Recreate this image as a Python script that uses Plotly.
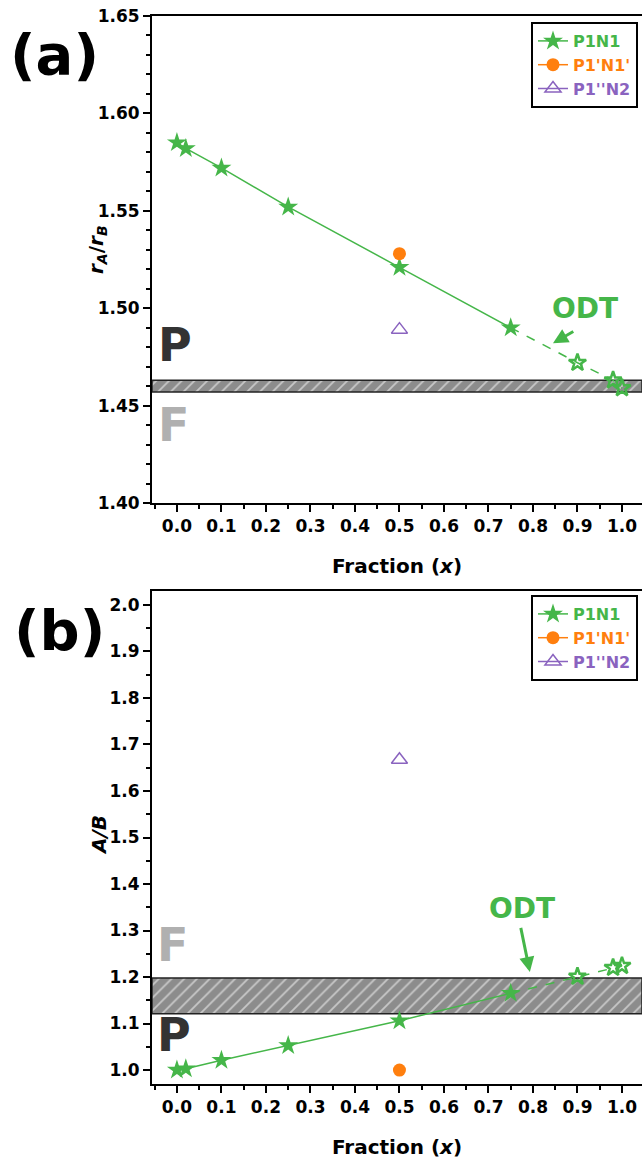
import plotly.graph_objects as go

# ---------------- data ----------------
x_frac = [0.0, 0.02, 0.1, 0.25, 0.5, 0.75, 0.9, 0.98, 1.0]
ratio_p1n1 = [1.585, 1.582, 1.572, 1.552, 1.521, 1.490, 1.472, 1.463, 1.459]
ab_p1n1 = [1.000, 1.003, 1.021, 1.053, 1.106, 1.165, 1.201, 1.220, 1.224]
x_single = [0.5]
ratio_p1pn1p = [1.528]
ratio_p1ppn2 = [1.489]
ab_p1pn1p = [1.000]
ab_p1ppn2 = [1.667]
band_a = [1.457, 1.463]
band_b = [1.121, 1.198]
x_ticks = [0.0, 0.1, 0.2, 0.3, 0.4, 0.5, 0.6, 0.7, 0.8, 0.9, 1.0]
x_range = [-0.056, 1.045]
ya_range = [1.40, 1.65]
yb_range = [0.97, 2.03]
odt_a = dict(text_x=0.917, text_y=1.5, head_x=0.845, head_y=1.482, tail_x=0.894, tail_y=1.4885)
odt_b = dict(text_x=0.775, text_y=1.347, head_x=0.793, head_y=1.211, tail_x=0.772, tail_y=1.309)

GREEN = "#45b649"
ORANGE = "#ff7f0e"
PURPLE = "#8a63bf"
FONT = "DejaVu Sans"

n_solid = 6  # first 6 points solid filled stars

fig = go.Figure()


def add_panel(xa, ya, yvals, orange_vals, purple_vals, band, legend):
    # hatched band
    fig.add_trace(go.Scatter(
        x=[x_range[0], x_range[1], x_range[1], x_range[0], x_range[0]],
        y=[band[0], band[0], band[1], band[1], band[0]],
        mode="lines", fill="toself",
        fillpattern=dict(shape="/", bgcolor="#8c8c8c", fgcolor="#c8c8c8",
                         size=9, solidity=0.2, fillmode="replace"),
        line=dict(color="#222222", width=1.5),
        xaxis=xa, yaxis=ya, showlegend=False, hoverinfo="skip"))
    # dashed extension
    fig.add_trace(go.Scatter(
        x=x_frac[n_solid - 1:], y=yvals[n_solid - 1:], mode="lines",
        line=dict(color=GREEN, width=1.5, dash="dash"),
        xaxis=xa, yaxis=ya, showlegend=False))
    # solid with filled stars
    fig.add_trace(go.Scatter(
        x=x_frac[:n_solid], y=yvals[:n_solid], mode="lines+markers",
        line=dict(color=GREEN, width=1.5),
        marker=dict(symbol="star", size=15, color=GREEN),
        name='<span style="color:%s">P1N1</span>' % GREEN,
        xaxis=xa, yaxis=ya, legend=legend))
    # hollow stars
    fig.add_trace(go.Scatter(
        x=x_frac[n_solid:], y=yvals[n_solid:], mode="markers",
        marker=dict(symbol="star-open", size=13, color=GREEN,
                    line=dict(width=2.5, color=GREEN)),
        xaxis=xa, yaxis=ya, showlegend=False))
    fig.add_trace(go.Scatter(
        x=x_single, y=orange_vals, mode="lines+markers",
        line=dict(color=ORANGE, width=1.5),
        marker=dict(symbol="circle", size=13, color=ORANGE),
        name='<span style="color:%s">P1\'N1\'</span>' % ORANGE,
        xaxis=xa, yaxis=ya, legend=legend))
    fig.add_trace(go.Scatter(
        x=x_single, y=purple_vals, mode="lines+markers",
        line=dict(color=PURPLE, width=1.5),
        marker=dict(symbol="triangle-up-open", size=14, color=PURPLE,
                    line=dict(width=1.5, color=PURPLE)),
        name='<span style="color:%s">P1\'\'N2</span>' % PURPLE,
        xaxis=xa, yaxis=ya, legend=legend))


add_panel("x", "y", ratio_p1n1, ratio_p1pn1p, ratio_p1ppn2, band_a, "legend")
add_panel("x2", "y2", ab_p1n1, ab_p1pn1p, ab_p1ppn2, band_b, "legend2")

W, H = 642, 1166
xdom = [152 / W, 1.0]
ya_dom = [1 - 503 / H, 1 - 16 / H]
yb_dom = [1 - 1084 / H, 1 - 591 / H]

tickfont = dict(family=FONT, size=17, color="black", weight="bold")
titlefont = dict(family=FONT, size=20, color="black", weight="bold")

common_x = dict(
    range=x_range, tickvals=x_ticks, ticktext=["%.1f" % v for v in x_ticks],
    showline=True, linewidth=2, linecolor="black", mirror=True,
    ticks="outside", ticklen=7, tickwidth=2, tickcolor="black",
    minor=dict(dtick=0.05, ticks="outside", ticklen=4, tickwidth=2, tickcolor="black"),
    showgrid=False, zeroline=False, tickfont=tickfont,
    title=dict(text="Fraction (<i>x</i>)", font=titlefont, standoff=24),
    domain=xdom, automargin=False)
common_y = dict(
    showline=True, linewidth=2, linecolor="black", mirror=False,
    ticks="outside", ticklen=7, tickwidth=2, tickcolor="black",
    showgrid=False, zeroline=False, tickfont=tickfont, automargin=False)

legend_common = dict(xanchor="right", yanchor="top",
                     bordercolor="black", borderwidth=2, bgcolor="white",
                     font=dict(family=FONT, size=16, weight="bold"),
                     tracegroupgap=0, itemwidth=30)

fig.update_layout(
    width=W, height=H, margin=dict(l=0, r=0, t=0, b=0),
    paper_bgcolor="white", plot_bgcolor="white",
    xaxis=dict(anchor="y", **common_x),
    xaxis2=dict(anchor="y2", **common_x),
    yaxis=dict(anchor="x", domain=ya_dom, range=ya_range, dtick=0.05, tick0=1.40,
               tickformat=".2f",
               minor=dict(dtick=0.01, ticks="outside", ticklen=4, tickwidth=2, tickcolor="black"),
               **common_y),
    yaxis2=dict(anchor="x2", domain=yb_dom, range=yb_range, dtick=0.1, tick0=1.0,
                tickformat=".1f",
                minor=dict(dtick=0.05, ticks="outside", ticklen=4, tickwidth=2, tickcolor="black"),
                **common_y),
    legend=dict(x=638 / W, y=1 - 22 / H, **legend_common),
    legend2=dict(x=638 / W, y=1 - 595 / H, **legend_common),
    showlegend=True,
)

ann = []
# y-axis titles
ann.append(dict(text="<i>r</i><sub><i>A</i></sub>/<i>r</i><sub><i>B</i></sub>",
                x=97 / W, y=1 - 250 / H, xref="paper", yref="paper", textangle=-90,
                xanchor="center", yanchor="middle", showarrow=False, font=titlefont))
ann.append(dict(text="<i>A/B</i>",
                x=99 / W, y=1 - 835 / H, xref="paper", yref="paper", textangle=-90,
                xanchor="center", yanchor="middle", showarrow=False, font=titlefont))
# panel labels
ann.append(dict(text="(a)", x=54 / W, y=1 - 54 / H, xref="paper", yref="paper",
                xanchor="center", yanchor="middle",
                showarrow=False, font=dict(family=FONT, size=56, weight="bold", color="black")))
ann.append(dict(text="(b)", x=59 / W, y=1 - 630 / H, xref="paper", yref="paper",
                xanchor="center", yanchor="middle",
                showarrow=False, font=dict(family=FONT, size=56, weight="bold", color="black")))
# P / F labels
pf_font_p = dict(family=FONT, size=46, weight="bold", color="#333333")
pf_font_f = dict(family=FONT, size=46, weight="bold", color="#b0b0b0")
ann.append(dict(text="P", x=-0.048, y=1.481, xref="x", yref="y", xanchor="left",
                showarrow=False, font=pf_font_p))
ann.append(dict(text="F", x=-0.048, y=1.440, xref="x", yref="y", xanchor="left",
                showarrow=False, font=pf_font_f))
ann.append(dict(text="F", x=-0.05, y=1.268, xref="x2", yref="y2", xanchor="left",
                showarrow=False, font=pf_font_f))
ann.append(dict(text="P", x=-0.05, y=1.075, xref="x2", yref="y2", xanchor="left",
                showarrow=False, font=pf_font_p))
# ODT labels and arrows
for o, xr, yr in [(odt_a, "x", "y"), (odt_b, "x2", "y2")]:
    ann.append(dict(text="ODT", x=o["text_x"], y=o["text_y"], xref=xr, yref=yr,
                    showarrow=False, font=dict(family=FONT, size=28, weight="bold", color=GREEN)))
    ann.append(dict(text="", x=o["head_x"], y=o["head_y"], xref=xr, yref=yr,
                    ax=o["tail_x"], ay=o["tail_y"], axref=xr, ayref=yr,
                    showarrow=True, arrowhead=2, arrowsize=1, arrowwidth=3,
                    arrowcolor=GREEN))
fig.update_layout(annotations=ann)

fig.write_html("out.html")
